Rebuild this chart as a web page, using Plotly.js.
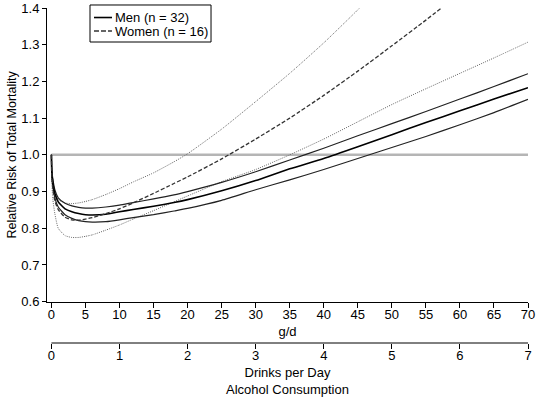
<!DOCTYPE html>
<html>
<head>
<meta charset="utf-8">
<script src="https://cdn.plot.ly/plotly-3.0.1.min.js"></script>
<style>html,body{margin:0;padding:0;background:#fff;}#chart{width:536px;height:398px;}</style>
</head>
<body>
<div id="chart"></div>
<script>
// Alcohol consumption, g/d
const gd = [0, 0.05, 0.2, 0.5, 1, 2, 3, 4, 5, 6, 8, 10, 12, 15, 18, 20, 25, 30, 35, 40, 45, 50, 55, 60, 65, 70];
// Men (n = 32)
const menRR    = [1.0, 0.955, 0.925, 0.895, 0.872, 0.853, 0.845, 0.840, 0.837, 0.836, 0.838, 0.845, 0.851, 0.860, 0.870, 0.878, 0.902, 0.930, 0.962, 0.990, 1.022, 1.055, 1.088, 1.120, 1.152, 1.183];
const menUpper = [1.0, 0.960, 0.935, 0.905, 0.883, 0.868, 0.861, 0.857, 0.855, 0.855, 0.858, 0.863, 0.870, 0.880, 0.891, 0.900, 0.925, 0.954, 0.986, 1.018, 1.052, 1.085, 1.118, 1.152, 1.186, 1.221];
const menLower = [1.0, 0.950, 0.915, 0.883, 0.858, 0.837, 0.827, 0.821, 0.818, 0.817, 0.818, 0.823, 0.829, 0.837, 0.847, 0.854, 0.876, 0.905, 0.932, 0.960, 0.990, 1.020, 1.050, 1.082, 1.115, 1.151];
// Women (n = 16)
const womenRR    = [1.0, 0.950, 0.910, 0.875, 0.851, 0.830, 0.823, 0.822, 0.825, 0.829, 0.840, 0.853, 0.869, 0.895, 0.922, 0.940, 0.989, 1.043, 1.100, 1.162, 1.228, 1.297, 1.367, 1.439, 1.510, 1.580];
const womenUpper = [1.0, 0.960, 0.930, 0.895, 0.878, 0.869, 0.867, 0.869, 0.873, 0.878, 0.892, 0.908, 0.926, 0.951, 0.981, 1.003, 1.070, 1.145, 1.222, 1.305, 1.395, 1.490, 1.590, 1.690, 1.790, 1.900];
const womenLower = [1.0, 0.930, 0.880, 0.840, 0.800, 0.780, 0.775, 0.775, 0.778, 0.782, 0.795, 0.809, 0.825, 0.848, 0.872, 0.888, 0.927, 0.960, 1.000, 1.043, 1.090, 1.137, 1.180, 1.222, 1.264, 1.307];
// Reference line (RR = 1)
const refX = [0, 70];
const refY = [1.0, 1.0];
// Tick labels
const gdTicks = [0, 5, 10, 15, 20, 25, 30, 35, 40, 45, 50, 55, 60, 65, 70];
const rrTicks = [0.6, 0.7, 0.8, 0.9, 1.0, 1.1, 1.2, 1.3, 1.4];
const drinksTicks = [0, 1, 2, 3, 4, 5, 6, 7];
const legendNames = ['Men (n = 32)', 'Women (n = 16)'];

const FONT = 'Liberation Sans, Arial, sans-serif';
const menEst = {color: '#000', width: 1.6, shape: 'spline', smoothing: 0.5};
const womenEst = {color: '#333', width: 1.3, dash: '4px,2px', shape: 'spline', smoothing: 0.5};
const ciMen = {color: '#222', width: 1.2, shape: 'spline', smoothing: 0.5};
const ciWomen = {color: '#666', width: 1, dash: '1px,1.2px', shape: 'spline', smoothing: 0.5};

const traces = [
  {x: refX, y: refY, mode: 'lines', line: {color: '#b5b5b5', width: 2.5}, hoverinfo: 'skip'},
  {x: gd, y: womenUpper, mode: 'lines', line: ciWomen},
  {x: gd, y: womenLower, mode: 'lines', line: ciWomen},
  {x: gd, y: menUpper, mode: 'lines', line: ciMen},
  {x: gd, y: menLower, mode: 'lines', line: ciMen},
  {x: gd, y: menRR, mode: 'lines', name: legendNames[0], line: menEst},
  {x: gd, y: womenRR, mode: 'lines', name: legendNames[1], line: womenEst}
];

// custom legend (paper coords: x = (px-47)/481, y = (343-py)/335)
const shapes = [
  {type: 'rect', xref: 'paper', yref: 'paper', x0: 0.0894, x1: 0.341, y0: 0.8985, y1: 1.009,
   line: {color: '#000', width: 1}, fillcolor: '#fff', layer: 'above'},
  {type: 'line', xref: 'paper', yref: 'paper', x0: 0.0977, x1: 0.1351, y0: 0.9716, y1: 0.9716,
   line: {color: '#000', width: 1.6}, layer: 'above'},
  {type: 'line', xref: 'paper', yref: 'paper', x0: 0.0977, x1: 0.1351, y0: 0.9313, y1: 0.9313,
   line: {color: '#333', width: 1.3, dash: '5px,2px'}, layer: 'above'},
  // drinks-per-day axis line (from 0 to 7 drinks)
  {type: 'line', xref: 'x2', yref: 'paper', x0: drinksTicks[0], x1: drinksTicks[drinksTicks.length - 1], y0: 0, y1: 0,
   line: {color: '#000', width: 1}}
];
const annotations = legendNames.map((t, i) => ({
  text: t, xref: 'paper', yref: 'paper', x: 0.1372, y: i === 0 ? 0.9716 : 0.9313,
  xanchor: 'left', yanchor: 'middle', showarrow: false,
  font: {family: FONT, size: 13, color: '#000'}
}));

const layout = {
  width: 536, height: 398,
  margin: {l: 47, r: 8, t: 8, b: 55},
  paper_bgcolor: '#fff', plot_bgcolor: '#fff',
  font: {family: FONT, size: 13, color: '#000'},
  showlegend: false,
  shapes: shapes,
  annotations: annotations,
  xaxis: {
    range: [-0.65, 70], domain: [0, 1],
    tickvals: gdTicks, ticktext: gdTicks.map(String),
    ticks: 'outside', ticklen: 5, tickwidth: 1, tickcolor: '#000',
    ticklabelstandoff: -4,
    showline: true, linecolor: '#000', linewidth: 1,
    showgrid: false, zeroline: false,
    tickfont: {family: FONT, size: 13},
    title: {text: 'g/d', font: {family: FONT, size: 13}, standoff: 5},
    anchor: 'y'
  },
  xaxis2: {
    range: [-0.065, 7], overlaying: 'x',
    anchor: 'free', position: 0, side: 'bottom',
    tickvals: drinksTicks, ticktext: drinksTicks.map(String),
    ticks: 'outside', ticklen: 5, tickwidth: 1, tickcolor: '#000',
    ticklabelstandoff: -5,
    showline: false,
    showgrid: false, zeroline: false,
    tickfont: {family: FONT, size: 13},
    title: {text: 'Drinks per Day<br>Alcohol Consumption', font: {family: FONT, size: 13}, standoff: 6}
  },
  yaxis: {
    range: [0.6, 1.4], domain: [0.1233, 1],
    tickvals: rrTicks, ticktext: rrTicks.map(v => v.toFixed(1)),
    ticks: 'outside', ticklen: 4, tickwidth: 1, tickcolor: '#000',
    showline: true, linecolor: '#000', linewidth: 1,
    showgrid: false, zeroline: false,
    tickfont: {family: FONT, size: 13},
    title: {text: 'Relative Risk of Total Mortality', font: {family: FONT, size: 12.5}, standoff: 1}
  }
};

Plotly.newPlot('chart', traces, layout, {staticPlot: true, displayModeBar: false});
</script>
</body>
</html>
